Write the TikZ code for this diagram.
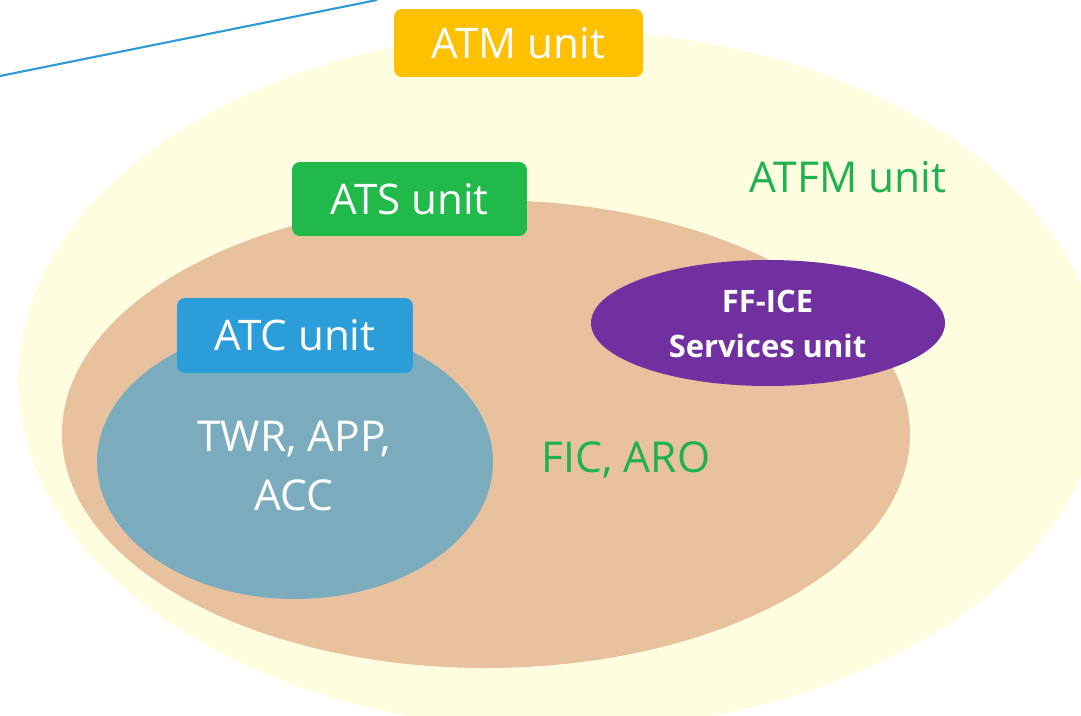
\documentclass[tikz,border=0pt]{standalone}
\usepackage{fontspec}
\setmainfont{Open Sans}
\definecolor{atfmfill}{HTML}{FEFDE0}
\definecolor{atsfill}{HTML}{E8C29E}
\definecolor{atcfill}{HTML}{7BACBE}
\definecolor{fficefill}{HTML}{7030A0}
\definecolor{atmbox}{HTML}{FFC000}
\definecolor{atsbox}{HTML}{21BA4A}
\definecolor{atcbox}{HTML}{2B9ED9}
\definecolor{unitgreen}{HTML}{1DB14F}
\definecolor{linkblue}{HTML}{2E9AD6}
\tikzset{
	unitbox/.style={rounded corners=4.5pt, inner sep=0pt, text=white,
		font=\fontsize{24}{30}\selectfont},
	areatext/.style={inner sep=0pt, font=\fontsize{24.2}{33.6}\selectfont},
}
\begin{document}
\begin{tikzpicture}[x=0.02cm,y=-0.02cm]
	\useasboundingbox (0,0) rectangle (1081,716);
	\begin{scope}
		\clip (0,0) rectangle (1081,716);
		% nested areas
		\fill[atfmfill] (560,380) ellipse (542 and 350);
		\fill[atsfill] (486,434) ellipse (424 and 234);
		\fill[atcfill] (295,462) ellipse (198 and 137);
		\fill[fficefill] (768,323) ellipse (177 and 63);
		% line at the top left
		\coordinate (lineA) at (0,76);
		\coordinate (lineB) at (377,0);
		\draw[linkblue,line width=1.2pt] (lineA) -- (lineB);
	\end{scope}
	% unit labels
	\node[unitbox,fill=atmbox,minimum width=4.98cm,minimum height=1.36cm] (atm) at (518.5,43) {ATM unit};
	\node[unitbox,fill=atsbox,minimum width=4.7cm,minimum height=1.48cm] (ats) at (409.5,199) {ATS unit};
	\node[unitbox,fill=atcbox,minimum width=4.72cm,minimum height=1.5cm] (atc) at (295,335.5) {ATC unit};
	\node[areatext,text=unitgreen,anchor=base] (atfm) at (848,193) {ATFM unit};
	\node[areatext,text=unitgreen,anchor=base] (fic) at (626,472) {FIC, ARO};
	\node[areatext,text=white,align=center] (twr) at (294,466) {TWR, APP,\\ACC};
	\node[inner sep=0pt,text=white,align=center,font=\fontsize{17.6}{25.6}\selectfont\bfseries] (ffice) at (767.5,324) {FF-ICE\\Services unit};
\end{tikzpicture}
\end{document}
